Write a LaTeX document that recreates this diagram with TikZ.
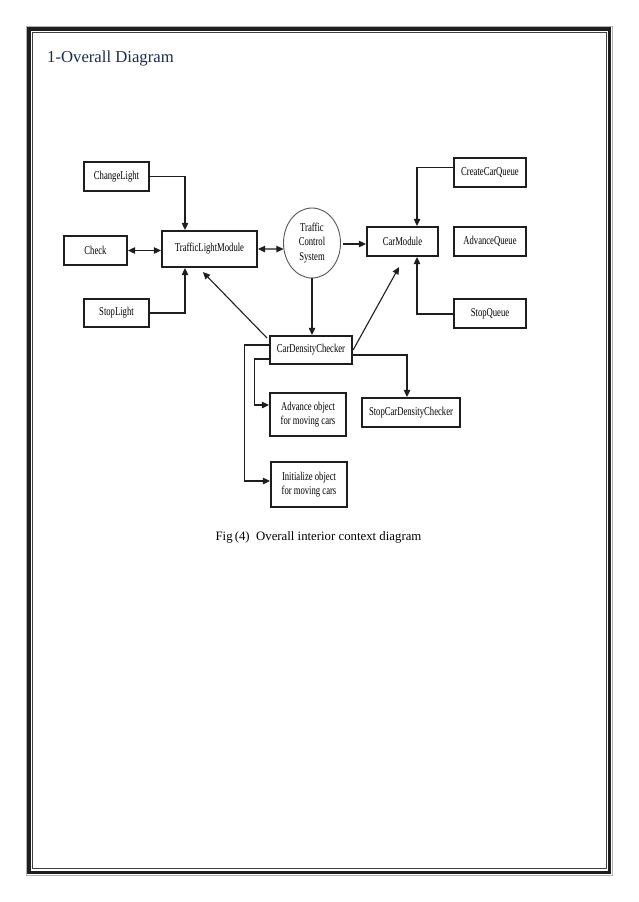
\documentclass[tikz,border=0pt]{standalone}
\usepackage{fontspec}
\setmainfont{Liberation Serif}
\newfontfamily\diagfont{Liberation Serif}[FakeStretch=0.72]
\usetikzlibrary{arrows.meta,shapes.geometric}
\definecolor{titleblue}{RGB}{26,44,78}
\definecolor{ink}{RGB}{30,30,30}
\tikzset{
  box/.style={draw=ink,line width=1.7pt,rectangle,inner sep=0pt,align=center,
    font=\diagfont\fontsize{12}{14.5}\selectfont},
  oval/.style={draw=ink!75,line width=0.9pt,ellipse,inner sep=0pt,align=center,
    minimum width=57pt,minimum height=70pt,font=\diagfont\fontsize{12}{14.5}\selectfont},
  conn/.style={draw=ink,line width=1.1pt},
  arr/.style={conn,-{Triangle[length=7pt,width=6.5pt]}},
  darr/.style={conn,{Triangle[length=7pt,width=6.5pt]}-{Triangle[length=7pt,width=6.5pt]}}
}
\begin{document}
\begin{tikzpicture}[x=1pt,y=-1pt]
\useasboundingbox (0,0) rectangle (638,902);
% page border
\draw[draw=gray!60,line width=0.8pt] (26,26) rectangle (612,875);
\draw[draw=ink,line width=3.4pt] (28.9,28.9) rectangle (609.3,872.2);
\draw[draw=ink!85,line width=0.9pt] (32.4,32.4) rectangle (606.4,868.6);
% title
\node[anchor=base west,text=titleblue,font=\fontsize{16.7}{20}\selectfont,inner sep=0pt] (title) at (47,62) {1-Overall Diagram};
% boxes
\node[box,minimum width=65.5pt,minimum height=29.5pt] (cl) at (116.5,176.5) {ChangeLight};
\node[box,minimum width=63.5pt,minimum height=29.5pt] (chk) at (95.5,250.5) {Check};
\node[box,minimum width=95.5pt,minimum height=36.5pt] (tlm) at (209.5,249) {TrafficLightModule};
\node[box,minimum width=65.5pt,minimum height=28.5pt] (sl) at (116.5,313) {StopLight};
\node[oval] (tcs) at (312,243) {Traffic\\Control\\System};
\node[box,minimum width=71.5pt,minimum height=29.5pt] (cm) at (402.5,241.5) {CarModule};
\node[box,minimum width=72.5pt,minimum height=29.5pt] (ccq) at (490,172.5) {CreateCarQueue};
\node[box,minimum width=72.5pt,minimum height=29.5pt] (aq) at (490,241.5) {AdvanceQueue};
\node[box,minimum width=72.5pt,minimum height=29.5pt] (sq) at (490,313.5) {StopQueue};
\node[box,minimum width=82.5pt,minimum height=28.5pt] (cdc) at (311,350) {CarDensityChecker};
\node[box,minimum width=98.5pt,minimum height=29.5pt] (scdc) at (411,412.5) {StopCarDensityChecker};
\node[box,minimum width=76.5pt,minimum height=43.5pt] (ao) at (308,414.5) {Advance object\\for moving cars};
\node[box,minimum width=76.5pt,minimum height=45.5pt] (io) at (309,484.5) {Initialize object\\for moving cars};
% connectors
\draw[arr] (cl.east) -| ([shift={(-24.5,0)}]tlm.north);
\draw[arr] (sl.east) -| ([shift={(-24.5,0)}]tlm.south);
\draw[darr] (chk.east) -- (chk.east -| tlm.west);
\draw[darr] (tlm.east) -- (tcs.192);
\draw[arr] ([shift={(2,1)}]tcs.east) -- ([shift={(0,1)}]cm.west |- tcs.east);
\draw[arr] (tcs.south) -- (tcs.south |- cdc.north);
\draw[arr] ([shift={(-2,3)}]cdc.north west) -- ([shift={(-6.5,4)}]tlm.south);
\draw[arr] (cdc.east) -- ([shift={(-3.5,10)}]cm.south);
\draw[arr] ([shift={(0,-5)}]ccq.west) -| ([shift={(14.5,0)}]cm.north);
\draw[arr] ([shift={(0,0.5)}]sq.west) -| ([shift={(14.5,0)}]cm.south);
\draw[arr] ([shift={(0,5)}]cdc.east) -| ([shift={(-4,0)}]scdc.north);
\draw[arr] ([shift={(0,9)}]cdc.west) -- ++(-14,0) |- ([shift={(0,-9.5)}]ao.west);
\draw[arr] ([shift={(0,-5)}]cdc.west) -- ++(-24,0) |- ([shift={(0,-3.5)}]io.west);
% caption
\node[anchor=base,font=\fontsize{12.8}{15}\selectfont,inner sep=0pt] (cap) at (318.5,540) {Fig\,(4)\ \ Overall interior context diagram};
\end{tikzpicture}
\end{document}
